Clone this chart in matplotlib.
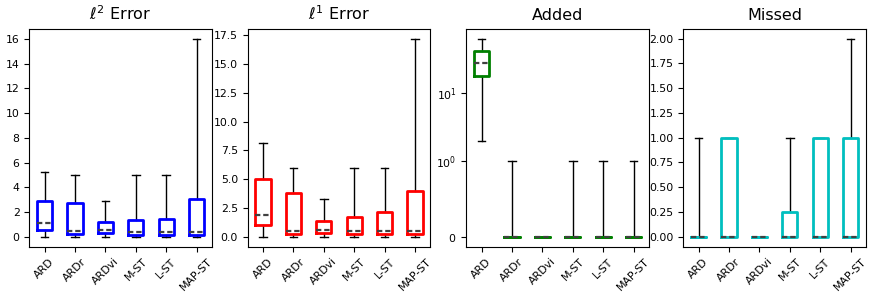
import matplotlib
matplotlib.use("Agg")
import matplotlib.pyplot as plt

methods = ["ARD", "ARDr", "ARDvi", "M-ST", "L-ST", "MAP-ST"]

titles = [r"$\ell^2$ Error", r"$\ell^1$ Error", "Added", "Missed"]
colors = ["b", "r", "g", "c"]

# ell2 error
l2_whislo = [0, 0, 0, 0, 0, 0]
l2_q1 = [0.52, 0.19, 0.30, 0.16, 0.16, 0.16]
l2_med = [1.10, 0.43, 0.51, 0.38, 0.38, 0.38]
l2_q3 = [2.86, 2.72, 1.19, 1.32, 1.40, 3.03]
l2_whishi = [5.25, 5.03, 2.90, 4.97, 4.97, 16.03]

# ell1 error
l1_whislo = [0, 0, 0, 0, 0, 0]
l1_q1 = [1.01, 0.26, 0.37, 0.20, 0.20, 0.20]
l1_med = [1.88, 0.49, 0.63, 0.49, 0.49, 0.49]
l1_q3 = [4.98, 3.79, 1.36, 1.70, 2.14, 3.97]
l1_whishi = [8.17, 6.00, 3.30, 6.00, 6.00, 17.20]

# added
ad_whislo = [2.0, 0, 0, 0, 0, 0]
ad_q1 = [18.0, 0, 0, 0, 0, 0]
ad_med = [28.0, 0, 0, 0, 0, 0]
ad_q3 = [41.0, 0, 0, 0, 0, 0]
ad_whishi = [63.0, 1, 0, 1, 1, 1]

# missed
ms_whislo = [0, 0, 0, 0, 0, 0]
ms_q1 = [0, 0, 0, 0, 0, 0]
ms_med = [0, 0, 0, 0, 0, 0]
ms_q3 = [0, 1, 0, 0.25, 1, 1]
ms_whishi = [1, 1, 0, 1, 1, 2]

panels = [
    (l2_whislo, l2_q1, l2_med, l2_q3, l2_whishi),
    (l1_whislo, l1_q1, l1_med, l1_q3, l1_whishi),
    (ad_whislo, ad_q1, ad_med, ad_q3, ad_whishi),
    (ms_whislo, ms_q1, ms_med, ms_q3, ms_whishi),
]

W, H = 878, 301
fig = plt.figure(figsize=(W / 100, H / 100), dpi=100)

lefts = [29.3, 247.7, 466.3, 683.3]
aw = 182.5
top, bottom = 28.7, 246.7

for i, (stats_arrs, title, col) in enumerate(zip(panels, titles, colors)):
    ax = fig.add_axes([lefts[i] / W, 1 - bottom / H, aw / W, (bottom - top) / H])
    lo, q1, med, q3, hi = stats_arrs
    stats = [dict(label=m, whislo=a, q1=b, med=c, q3=d, whishi=e, fliers=[])
             for m, a, b, c, d, e in zip(methods, lo, q1, med, q3, hi)]
    ax.bxp(stats, widths=0.5, showfliers=False,
           boxprops=dict(color=col, linewidth=2.0, zorder=3),
           medianprops=dict(color="0.25", linewidth=1.6,
                            linestyle=(0, (2.4, 1.3)), zorder=4),
           whiskerprops=dict(color="k", linewidth=1.0, zorder=1),
           capprops=dict(color="k", linewidth=1.0, zorder=1))
    if i == 2:
        ax.set_yscale("symlog", linthresh=1)
    ax.set_title(title, fontsize=11.5)
    ax.tick_params(axis="y", labelsize=7.8)
    ax.tick_params(axis="x", labelsize=7.8, labelrotation=45)
    ax.set_xlim(0.5, 6.5)

fig.savefig("out.png", dpi=100)
